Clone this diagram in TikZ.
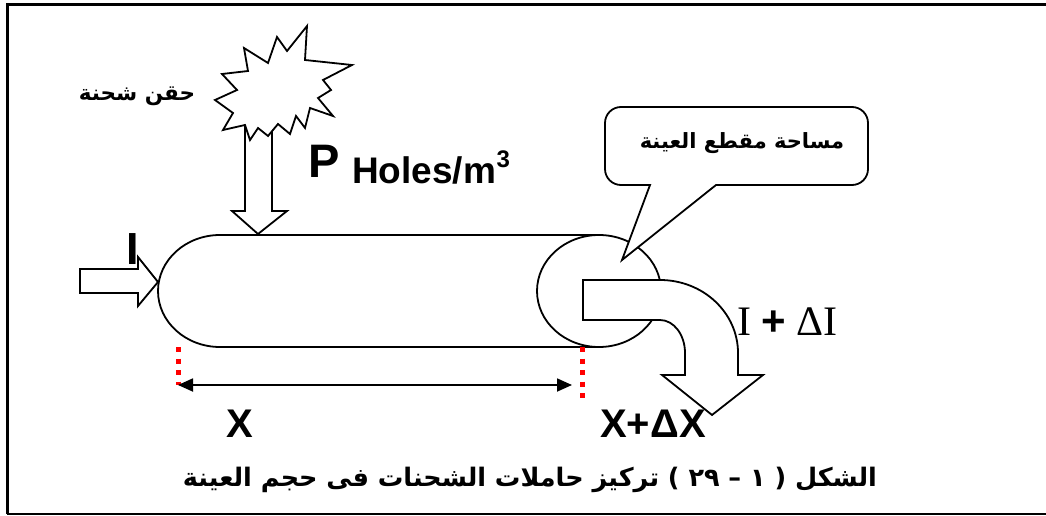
\documentclass[tikz,border=0pt]{standalone}
\usepackage{fontspec}
\setmainfont{Liberation Sans}
\newfontfamily\timesfont{Liberation Serif}
\newfontfamily\arialfont{Liberation Sans}
\newfontfamily\arabicfont[Script=Arabic]{DejaVu Sans}
\TeXXeTstate=1
\usetikzlibrary{arrows.meta}

\begin{document}
\begin{tikzpicture}[x=1pt,y=-1pt,
    contour/.style={draw, line width=1.8pt, fill=white, line join=miter},
    pointilles/.style={red, line width=5pt, dash pattern=on 5pt off 6.5pt},
    latin/.style={font=\bfseries\fontsize{#1}{#1}\selectfont, inner sep=0pt},
    arabe/.style={font=\arabicfont\bfseries\fontsize{#1}{#1}\selectfont, inner sep=0pt}]
    \useasboundingbox (0,0) rectangle (1046,516);
    % cadre
    \draw[line width=3pt] (1046,5) -- (7,5) -- (7,514);
    \draw[line width=2pt] (7,514) -- (1046,514);
    % fleche d'entree
    \draw[contour] (80,269) -- (138,269) -- (138,257) -- (158,282) -- (138,306) -- (138,293) -- (80,293) -- cycle;
    % injection
    \draw[contour] (245,120) -- (272,120) -- (272,211) -- (287,211) -- (258,234) -- (232,211) -- (245,211) -- cycle;
    \draw[contour] (307,26) -- (305,60) -- (352,65) -- (323,80) -- (331,90) -- (318,98) -- (333,116) -- (310,108)
        -- (305,128) -- (296,116) -- (290,134) -- (278,124) -- (268,136) -- (258,128) -- (250,140) -- (245,125)
        -- (223,130) -- (233,113) -- (215,100) -- (237,90) -- (222,74) -- (248,71) -- (244,48) -- (268,63)
        -- (277,37) -- (287,51) -- cycle;
    % cylindre
    \draw[contour] (220,235) -- (599,235) -- (599,347) -- (220,347) arc[start angle=90, end angle=270, x radius=62, y radius=56] -- cycle;
    \draw[contour] (599,291) ellipse[x radius=62, y radius=56];
    % bulle
    \draw[contour] (716,185) [rounded corners=16pt] -- (868,185) -- (868,107) -- (605,107) -- (605,185) [sharp corners] -- (650,185) -- (622,260) -- cycle;
    % fleche de sortie
    \draw[contour] (583,280) -- (660,280) arc[start angle=270, end angle=360, x radius=78, y radius=73]
        -- (738,375) -- (763,375) -- (712,415) -- (662,375) -- (685,375) -- (685,353)
        arc[start angle=0, end angle=-90, x radius=25, y radius=33] -- (583,320) -- cycle;
    % longueur X
    \draw[pointilles] (178,347) -- (178,385);
    \draw[pointilles] (582,347) -- (582,399);
    \coordinate (xa) at (178,385);
    \coordinate (xb) at (572,385);
    \draw[{Triangle[length=15pt,width=13pt]}-{Triangle[length=15pt,width=13pt]}, line width=1.8pt] (xa) -- (xb);
    % textes
    \node[latin=45, anchor=base] (courant) at (133,264) {I};
    \node[latin=47, anchor=base west] (lettreP) at (308,177) {P};
    \node[latin=37, anchor=base west] (trous) at (352,183) {Holes/m};
    \node[latin=24, anchor=base west] (cube) at (trous.base east |- 0,167) {3};
    \node[font=\timesfont\fontsize{42}{42}\selectfont, inner sep=0pt, anchor=base west] (sortie) at (737,335) {I {\arialfont\bfseries +} ΔI};
    \node[latin=40, anchor=base] (posX) at (240,437) {X};
    \node[latin=40, anchor=base west] (posXdX) at (600,437) {X+ΔX};
    \node[arabe=21.5] (injection) at (137,96) {\beginR حقن شحنة\endR};
    \node[arabe=21] (section) at (742,143) {\beginR مساحة مقطع العينة\endR};
    \node[arabe=25.5] (legende) at (530,480) {\beginR الشكل ( ١ – ٢٩ ) تركيز حاملات الشحنات فى حجم العينة\endR};
\end{tikzpicture}
\end{document}
